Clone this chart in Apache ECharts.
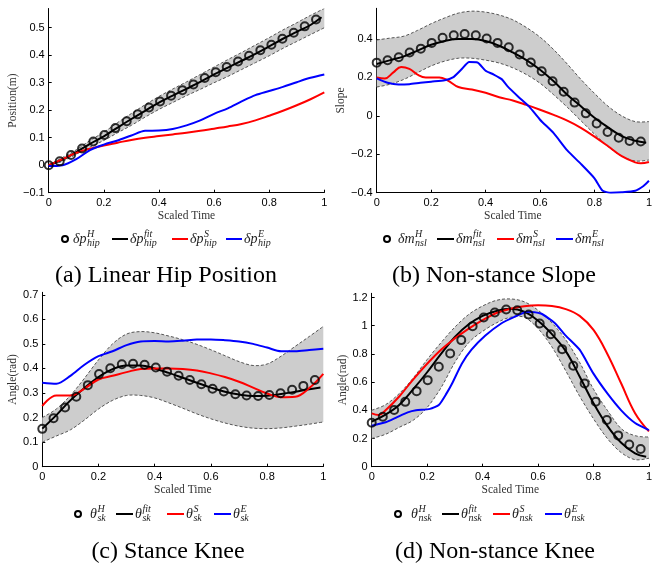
<!DOCTYPE html>
<html><head><meta charset="utf-8">
<script src="https://cdn.jsdelivr.net/npm/echarts@6/dist/echarts.min.js"></script>
<style>html,body{margin:0;padding:0;background:#fff}#c{width:655px;height:565px}</style>
</head><body><div id="c"></div>
<script>
// ---------- shared x grids ----------
const T = [0,0.05,0.1,0.15,0.2,0.25,0.3,0.35,0.4,0.45,0.5,0.55,0.6,0.65,0.7,0.75,0.8,0.85,0.9,0.95,1];
const TFIT = [0,0.05,0.1,0.15,0.2,0.25,0.3,0.35,0.4,0.45,0.5,0.55,0.6,0.65,0.7,0.75,0.8,0.85,0.9,0.95,0.99];
const HX = [0,0.04,0.081,0.121,0.162,0.202,0.242,0.283,0.323,0.364,0.404,0.444,0.485,0.525,0.566,0.606,0.646,0.687,0.727,0.768,0.808,0.848,0.889,0.929,0.97];
const timeTicks = [0,0.2,0.4,0.6,0.8,1];

// ---------- (a) Linear Hip Position ----------
const posTicks = [-0.1,0,0.1,0.2,0.3,0.4,0.5];
const posH   = [0,0.014,0.037,0.061,0.086,0.11,0.135,0.16,0.185,0.21,0.232,0.253,0.273,0.294,0.317,0.338,0.357,0.377,0.398,0.418,0.438,0.46,0.482,0.505,0.53];
const posFit = [0,0.02,0.048,0.078,0.105,0.137,0.168,0.198,0.228,0.253,0.278,0.303,0.33,0.355,0.38,0.405,0.432,0.46,0.485,0.51,0.538];
const posUp  = [0,0.028,0.056,0.09,0.12,0.155,0.188,0.22,0.25,0.277,0.303,0.33,0.357,0.384,0.41,0.437,0.464,0.492,0.518,0.545,0.57];
const posLo  = [0,0.014,0.04,0.066,0.09,0.118,0.145,0.175,0.203,0.228,0.253,0.276,0.3,0.323,0.348,0.373,0.398,0.425,0.45,0.475,0.5];
const posS   = [0,0.022,0.045,0.06,0.072,0.082,0.092,0.1,0.106,0.112,0.118,0.125,0.133,0.141,0.15,0.163,0.18,0.198,0.218,0.24,0.265];
const posE   = [-0.003,0.0,0.022,0.055,0.075,0.09,0.108,0.125,0.126,0.132,0.145,0.163,0.187,0.207,0.232,0.255,0.27,0.285,0.302,0.318,0.33];

// ---------- (b) Non-stance Slope ----------
const slopeTicks = [-0.4,-0.2,0,0.2,0.4];
const slopeH   = [0.277,0.29,0.305,0.33,0.35,0.38,0.407,0.42,0.426,0.42,0.403,0.38,0.357,0.32,0.278,0.232,0.18,0.126,0.069,0.013,-0.04,-0.084,-0.114,-0.131,-0.133];
const slopeFit = [0.27,0.29,0.31,0.34,0.37,0.39,0.4,0.4,0.39,0.365,0.33,0.29,0.24,0.18,0.11,0.05,-0.01,-0.06,-0.105,-0.13,-0.14];
const slopeUp  = [0.395,0.405,0.415,0.445,0.48,0.51,0.535,0.545,0.54,0.525,0.5,0.46,0.41,0.345,0.27,0.19,0.117,0.05,0.0,-0.03,-0.03];
const slopeLo  = [0.15,0.165,0.19,0.225,0.26,0.285,0.3,0.3,0.29,0.275,0.25,0.215,0.17,0.11,0.045,-0.025,-0.095,-0.16,-0.21,-0.235,-0.23];
const slopeS = [[0,0.2],[0.03,0.195],[0.06,0.225],[0.09,0.255],[0.12,0.245],[0.15,0.215],[0.18,0.2],[0.23,0.2],[0.26,0.185],[0.3,0.15],[0.35,0.137],[0.4,0.12],[0.45,0.097],[0.5,0.08],[0.55,0.057],[0.6,0.032],[0.65,0.005],[0.7,-0.025],[0.75,-0.062],[0.8,-0.108],[0.85,-0.158],[0.9,-0.21],[0.95,-0.242],[0.97,-0.247],[1,-0.24]];
const slopeE = [[0,0.195],[0.04,0.172],[0.08,0.163],[0.12,0.165],[0.16,0.172],[0.2,0.178],[0.25,0.185],[0.28,0.2],[0.31,0.24],[0.34,0.28],[0.37,0.278],[0.4,0.235],[0.43,0.215],[0.46,0.19],[0.48,0.155],[0.52,0.1],[0.56,0.048],[0.6,-0.02],[0.65,-0.09],[0.7,-0.18],[0.75,-0.25],[0.8,-0.325],[0.83,-0.39],[0.86,-0.4],[0.9,-0.398],[0.95,-0.39],[0.98,-0.365],[1,-0.338]];

// ---------- (c) Stance Knee ----------
const skTicks = [0,0.1,0.2,0.3,0.4,0.5,0.6,0.7];
const skH   = [0.154,0.197,0.241,0.285,0.332,0.377,0.401,0.417,0.419,0.415,0.404,0.387,0.37,0.353,0.336,0.317,0.306,0.295,0.29,0.288,0.292,0.299,0.313,0.329,0.353];
const skFit = [0.155,0.21,0.27,0.32,0.365,0.397,0.412,0.412,0.4,0.382,0.362,0.342,0.322,0.305,0.294,0.288,0.289,0.296,0.305,0.315,0.322];
const skUp  = [0.2,0.235,0.29,0.36,0.435,0.5,0.54,0.55,0.545,0.532,0.517,0.498,0.476,0.452,0.428,0.412,0.418,0.45,0.49,0.53,0.571];
const skLo  = [0.1,0.125,0.15,0.19,0.235,0.27,0.29,0.29,0.28,0.26,0.238,0.215,0.195,0.178,0.165,0.157,0.155,0.158,0.165,0.173,0.182];
const skS   = [0.247,0.29,0.29,0.318,0.355,0.37,0.385,0.398,0.4,0.4,0.398,0.392,0.38,0.365,0.346,0.322,0.298,0.283,0.285,0.32,0.378];
const skE   = [0.342,0.338,0.37,0.415,0.45,0.47,0.495,0.51,0.512,0.51,0.513,0.518,0.518,0.515,0.51,0.5,0.485,0.47,0.47,0.475,0.48];

// ---------- (d) Non-stance Knee ----------
const nskTicks = [0,0.2,0.4,0.6,0.8,1,1.2];
const nskH   = [0.312,0.354,0.402,0.46,0.536,0.614,0.709,0.803,0.898,0.997,1.058,1.094,1.115,1.11,1.08,1.016,0.94,0.834,0.716,0.59,0.461,0.331,0.222,0.158,0.125];
const nskFit = [0.32,0.37,0.44,0.55,0.67,0.8,0.92,1.01,1.07,1.105,1.12,1.1,1.035,0.94,0.82,0.64,0.45,0.29,0.17,0.095,0.07];
const nskUp  = [0.4,0.44,0.52,0.63,0.76,0.88,0.99,1.08,1.14,1.18,1.19,1.17,1.11,1.02,0.9,0.74,0.55,0.4,0.27,0.22,0.21];
const nskLo  = [0.2,0.23,0.28,0.33,0.42,0.56,0.74,0.88,0.96,1.02,1.06,1.06,0.98,0.85,0.68,0.5,0.34,0.2,0.1,0.05,0.06];
const nskS = [[0,0.378],[0.025,0.366],[0.05,0.4],[0.1,0.5],[0.15,0.62],[0.2,0.73],[0.25,0.83],[0.3,0.91],[0.35,0.98],[0.4,1.04],[0.45,1.09],[0.5,1.12],[0.55,1.138],[0.6,1.145],[0.65,1.14],[0.7,1.118],[0.75,1.07],[0.8,0.97],[0.85,0.8],[0.9,0.59],[0.95,0.38],[1,0.25]];
const nskE = [[0,0.29],[0.05,0.315],[0.09,0.35],[0.13,0.385],[0.16,0.4],[0.21,0.41],[0.243,0.44],[0.27,0.52],[0.29,0.59],[0.325,0.73],[0.36,0.83],[0.41,0.93],[0.467,1.016],[0.515,1.063],[0.562,1.1],[0.61,1.087],[0.66,1.02],[0.7,0.93],[0.75,0.83],[0.8,0.66],[0.85,0.52],[0.9,0.4],[0.95,0.31],[1,0.26]];

// ---------- layout ----------
const SANS = '"Liberation Sans", Arial, sans-serif';
const SERIF = '"Liberation Serif", "Times New Roman", serif';

const panels = [
  {grid:{left:48.7, top:8.5, width:275.6, height:184.2}, ymin:-0.1, ymax:0.57, ticks:posTicks, yname:'Position(m)', ygap:28,
   H:posH, fit:posFit, up:posUp, lo:posLo, S:T.map((t,k)=>[t,posS[k]]), E:T.map((t,k)=>[t,posE[k]]), eSmooth:0.3},
  {grid:{left:376.7, top:8.3, width:276.6, height:184.4}, ymin:-0.4, ymax:0.56, ticks:slopeTicks, yname:'Slope', ygap:26,
   H:slopeH, fit:slopeFit, up:slopeUp, lo:slopeLo, S:slopeS, E:slopeE, eSmooth:0.2},
  {grid:{left:42.3, top:292.3, width:281, height:174.4}, ymin:0, ymax:0.71, ticks:skTicks, yname:'Angle(rad)', ygap:21,
   H:skH, fit:skFit, up:skUp, lo:skLo, S:T.map((t,k)=>[t,skS[k]]), E:T.map((t,k)=>[t,skE[k]]), eSmooth:0.3},
  {grid:{left:371.7, top:293.3, width:281.6, height:173.4}, ymin:0, ymax:1.23, ticks:nskTicks, yname:'Angle(rad)', ygap:21,
   H:nskH, fit:nskFit, up:nskUp, lo:nskLo, S:nskS, E:nskE, eSmooth:0.2}
];

function fmt(v){
  const a = +Math.abs(v).toFixed(2);
  return (v < 0 ? '\u2212' : '') + String(a);
}

// Catmull-Rom -> cubic bezier path segments through pixel points
function curveSeg(pts){
  let d = '';
  for (let i = 0; i < pts.length - 1; i++){
    const p0 = pts[Math.max(i-1,0)], p1 = pts[i], p2 = pts[i+1], p3 = pts[Math.min(i+2,pts.length-1)];
    const c1 = [p1[0]+(p2[0]-p0[0])/6, p1[1]+(p2[1]-p0[1])/6];
    const c2 = [p2[0]-(p3[0]-p1[0])/6, p2[1]-(p3[1]-p1[1])/6];
    d += ' C' + c1[0] + ',' + c1[1] + ' ' + c2[0] + ',' + c2[1] + ' ' + p2[0] + ',' + p2[1];
  }
  return d;
}

const grids = [], xAxes = [], yAxes = [], series = [];
panels.forEach((p, i) => {
  grids.push(Object.assign({containLabel:false}, p.grid));
  xAxes.push({
    type:'value', gridIndex:i, min:0, max:1,
    name:'Scaled Time', nameLocation:'middle', nameGap:14,
    nameTextStyle:{fontFamily:SERIF, fontSize:11.5, color:'#333'},
    axisLine:{show:true, onZero:false, lineStyle:{color:'#000', width:1}},
    axisTick:{show:true, inside:true, length:3, customValues:timeTicks, lineStyle:{color:'#000'}},
    axisLabel:{customValues:timeTicks, formatter:fmt, fontFamily:SANS, fontSize:11, color:'#000', margin:5},
    splitLine:{show:false}
  });
  yAxes.push({
    type:'value', gridIndex:i, min:p.ymin, max:p.ymax,
    name:p.yname, nameLocation:'middle', nameGap:p.ygap,
    nameTextStyle:{fontFamily:SERIF, fontSize:11.5, color:'#333'},
    axisLine:{show:true, onZero:false, lineStyle:{color:'#000', width:1}},
    axisTick:{show:true, inside:true, length:3, customValues:p.ticks, lineStyle:{color:'#000'}},
    axisLabel:{customValues:p.ticks, formatter:fmt, fontFamily:SANS, fontSize:11, color:'#000', margin:4},
    splitLine:{show:false}
  });
  // confidence band: filled between upper and lower, dashed edges
  series.push({
    type:'custom', xAxisIndex:i, yAxisIndex:i, z:2, clip:true, silent:true,
    data:[[0, p.lo[0]]],
    renderItem:function(params, api){
      const top = T.map((t,k)=>api.coord([t, p.up[k]]));
      const bot = T.map((t,k)=>api.coord([t, p.lo[k]]));
      const botR = bot.slice().reverse();
      const fillD = 'M' + top[0][0] + ',' + top[0][1] + curveSeg(top) +
        ' L' + botR[0][0] + ',' + botR[0][1] + curveSeg(botR) + ' Z';
      const topD = 'M' + top[0][0] + ',' + top[0][1] + curveSeg(top);
      const botD = 'M' + bot[0][0] + ',' + bot[0][1] + curveSeg(bot);
      const dash = {fill:null, stroke:'#555', lineWidth:1, lineDash:[3,2]};
      return {type:'group', children:[
        {type:'path', shape:{pathData:fillD}, style:{fill:'#cdcdcd', stroke:null}},
        {type:'path', shape:{pathData:topD}, style:dash},
        {type:'path', shape:{pathData:botD}, style:dash}
      ]};
    }
  });
  series.push({
    type:'scatter', xAxisIndex:i, yAxisIndex:i, z:3,
    data:HX.map((t,k)=>[t,p.H[k]]), symbol:'circle', symbolSize:8,
    itemStyle:{color:'rgba(0,0,0,0)', borderColor:'#000', borderWidth:2}, silent:true
  });
  series.push({
    type:'line', xAxisIndex:i, yAxisIndex:i, z:3,
    data:TFIT.map((t,k)=>[t,p.fit[k]]), smooth:0.4, symbol:'none',
    lineStyle:{color:'#000', width:2}, silent:true
  });
  series.push({
    type:'line', xAxisIndex:i, yAxisIndex:i, z:3,
    data:p.S, smooth:0.4, symbol:'none', lineStyle:{color:'#ff0000', width:2}, silent:true
  });
  series.push({
    type:'line', xAxisIndex:i, yAxisIndex:i, z:3,
    data:p.E, smooth:p.eSmooth, symbol:'none', lineStyle:{color:'#0000ff', width:2}, silent:true
  });
});

// ---------- legends & captions (graphic text) ----------
const ctx = document.createElement('canvas').getContext('2d');
function tw(text, font){ ctx.font = font; return ctx.measureText(text).width; }
const MAIN_FONT = 'italic 14px ' + SERIF;
const SCRIPT_FONT = 'italic 10px ' + SERIF;

const legends = [
  {y:239, main:'\u03b4p', sub:'hip', circle:65, lines:[[112,128,'#000'],[172,188,'#ff0000'],[226,242,'#0000ff']], texts:[73,130,190,244]},
  {y:239, main:'\u03b4m', sub:'nsl', circle:387, lines:[[437,454,'#000'],[497,514,'#ff0000'],[556,573,'#0000ff']], texts:[398,456,516,575]},
  {y:514, main:'\u03b8', sub:'sk', circle:78, lines:[[116,133,'#000'],[167,184,'#ff0000'],[214,231,'#0000ff']], texts:[90,135,186,233]},
  {y:514, main:'\u03b8', sub:'nsk', circle:398, lines:[[442,459,'#000'],[493,510,'#ff0000'],[545,562,'#0000ff']], texts:[411,461,512,564]}
];
const sups = ['H','fit','S','E'];
const graphics = [];
function txt(x, y, text, font, align, valign, color){
  return {type:'text', x:x, y:y, silent:true, z:10,
    style:{text:text, font:font, fill:color||'#222', textAlign:align||'left', textVerticalAlign:valign||'middle', align:align||'left', verticalAlign:valign||'middle'}};
}
legends.forEach(L => {
  graphics.push({type:'circle', shape:{cx:L.circle, cy:L.y, r:3}, style:{fill:'none', stroke:'#000', lineWidth:2}, z:10, silent:true});
  L.lines.forEach(l => graphics.push({type:'line', shape:{x1:l[0], y1:L.y, x2:l[1], y2:L.y}, style:{stroke:l[2], lineWidth:2}, z:10, silent:true}));
  L.texts.forEach((x, k) => {
    graphics.push(txt(x, L.y, L.main, MAIN_FONT));
    const w = tw(L.main, MAIN_FONT) + 0.5;
    graphics.push(txt(x + w, L.y - 5, sups[k], SCRIPT_FONT));
    graphics.push(txt(x + w, L.y + 4, L.sub, SCRIPT_FONT));
  });
});
const captions = [
  [166, 276, '(a) Linear Hip Position'],
  [494, 276, '(b) Non-stance Slope'],
  [168, 552, '(c) Stance Knee'],
  [495, 552, '(d) Non-stance Knee']
];
captions.forEach(c => graphics.push(txt(c[0], c[1], c[2], '24px ' + SERIF, 'center', 'middle', '#000')));

const chart = echarts.init(document.getElementById('c'), null, {renderer:'canvas'});
chart.setOption({
  animation:false,
  backgroundColor:'#fff',
  grid:grids, xAxis:xAxes, yAxis:yAxes, series:series,
  graphic:{elements:graphics}
});
</script>
</body></html>
